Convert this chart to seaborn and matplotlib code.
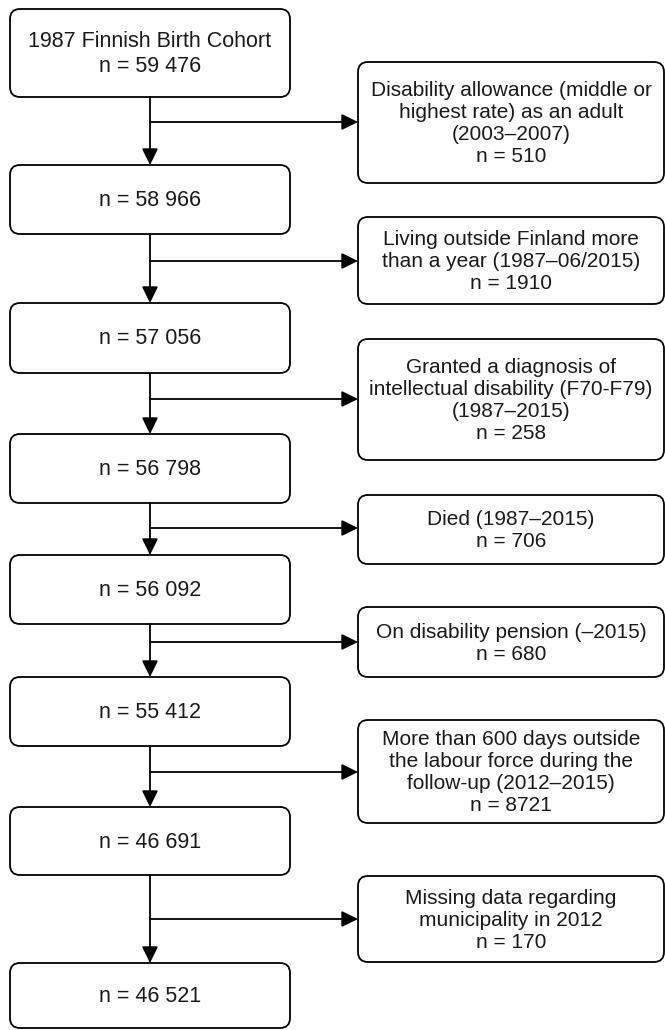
import matplotlib
matplotlib.use("Agg")
import matplotlib.pyplot as plt
from matplotlib.patches import FancyBboxPatch, FancyArrowPatch
import seaborn as sns

# ==========================================
# Flow chart content
# ==========================================

main_labels = [
    "1987 Finnish Birth Cohort\nn = 59 476",
    "n = 58 966",
    "n = 57 056",
    "n = 56 798",
    "n = 56 092",
    "n = 55 412",
    "n = 46 691",
    "n = 46 521",
]

excl_labels = [
    "Disability allowance (middle or\nhighest rate) as an adult\n(2003\u20132007)\nn = 510",
    "Living outside Finland more\nthan a year (1987\u201306/2015)\nn = 1910",
    "Granted a diagnosis of\nintellectual disability (F70-F79)\n(1987\u20132015)\nn = 258",
    "Died (1987\u20132015)\nn = 706",
    "On disability pension (\u20132015)\nn = 680",
    "More than 600 days outside\nthe labour force during the\nfollow-up (2012\u20132015)\nn = 8721",
    "Missing data regarding\nmunicipality in 2012\nn = 170",
]

# ==========================================
# Layout (pixels, y grows downwards)
# ==========================================

main_x = (10, 290)
excl_x = (358, 664)

main_top = [9, 165, 303, 434, 555, 677, 807, 963]
main_bottom = [97, 234, 373, 503, 624, 746, 875, 1028]

excl_top = [62, 217, 339, 495, 607, 720, 876]
excl_bottom = [183, 304, 460, 564, 677, 823, 962]

branch_y = [122, 261, 399, 528, 642, 772, 919]

sns.set_theme(style="white")
plt.rcParams["font.family"] = ["Liberation Sans", "DejaVu Sans"]

fig = plt.figure(figsize=(6.65, 10.3), dpi=100)
ax = fig.add_axes([0, 0, 1, 1])
ax.set_xlim(0, 665)
ax.set_ylim(1030, 0)
ax.axis("off")

LW = 1.3


def draw_box(x0, x1, y0, y1, text, fs):
    box = FancyBboxPatch(
        (x0, y0),
        x1 - x0,
        y1 - y0,
        boxstyle="round,pad=0,rounding_size=10",
        facecolor="white",
        edgecolor="black",
        linewidth=LW,
    )
    ax.add_patch(box)
    ax.text(
        (x0 + x1) / 2,
        (y0 + y1) / 2 + 1,
        text,
        ha="center",
        va="center",
        fontsize=fs,
        linespacing=1.2,
        color="#1a1a1a",
    )


def draw_arrow(p0, p1):
    arrow = FancyArrowPatch(
        p0,
        p1,
        arrowstyle="-|>,head_length=0.55,head_width=0.27",
        mutation_scale=18,
        shrinkA=0,
        shrinkB=0,
        color="black",
        linewidth=LW,
    )
    ax.add_patch(arrow)


cx = (main_x[0] + main_x[1]) / 2

for i, label in enumerate(main_labels):
    draw_box(main_x[0], main_x[1], main_top[i], main_bottom[i], label, 15.5)

for i, label in enumerate(excl_labels):
    draw_box(excl_x[0], excl_x[1], excl_top[i], excl_bottom[i], label, 15)
    # down arrow to next retained sample
    draw_arrow((cx, main_bottom[i]), (cx, main_top[i + 1]))
    # side arrow to exclusion box
    draw_arrow((cx, branch_y[i]), (excl_x[0], branch_y[i]))

fig.savefig("out.png", dpi=100)
